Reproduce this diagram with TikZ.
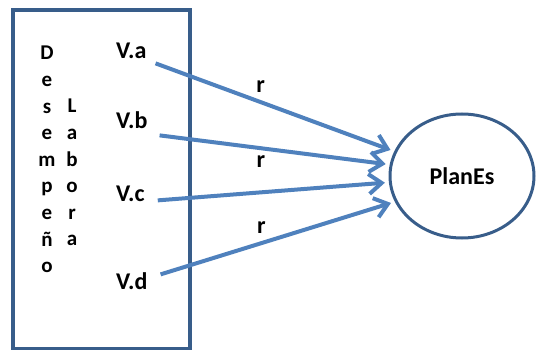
\documentclass[tikz,border=0pt]{standalone}
\usepackage{fontspec}
\setmainfont{Carlito}
\usetikzlibrary{arrows.meta,positioning,shapes.geometric}
\definecolor{FrameBlue}{RGB}{56,93,138}
\definecolor{ArrowBlue}{RGB}{79,129,189}

\begin{document}
\begin{tikzpicture}[x=1pt,y=-1pt, every node/.style={font=\bfseries\fontsize{24}{28}\selectfont}, v/.style={inner sep=0pt,anchor=base west}, col/.style={align=center,inner sep=0pt,anchor=north,font=\bfseries\fontsize{21}{26.6}\selectfont}, a/.style={-{Straight Barb[length=4.5mm,width=7mm]},line width=4pt,draw=ArrowBlue,shorten >=4pt}]
\useasboundingbox (0,0) rectangle (536,350);
\node[draw=FrameBlue,line width=3.5pt,minimum width=177pt,minimum height=339pt] (box) at (101.5,179.5) {};
\node[col] (des) at (47,46) {D\\e\\s\\e\\m\\p\\e\\ñ\\o};
\node[col] (lab) at (72,99) {L\\a\\b\\o\\r\\a};
\node[v] (va) at (116,59) {V.a};
\node[v] (vb) at (116,129) {V.b};
\node[v] (vc) at (116,201) {V.c};
\node[v] (vd) at (116,289) {V.d};
\node[ellipse,draw=FrameBlue,line width=3pt,minimum width=144pt,minimum height=124pt] (pl) at (462,176) {PlanEs};
\draw[a] ([shift={(9,4)}]va.south east) -- node[pos=.44,above=4pt]{r} (pl.160);
\draw[a] ([shift={(12,6)}]vb.south east) -- node[pos=.44,below=2pt]{r} (pl.171);
\draw[a] ([shift={(13,-1)}]vc.south east) -- (pl.185);
\draw[a] ([shift={(13,-15)}]vd.south east) -- node[pos=.43,above=4pt]{r} (pl.201);
\end{tikzpicture}
\end{document}
